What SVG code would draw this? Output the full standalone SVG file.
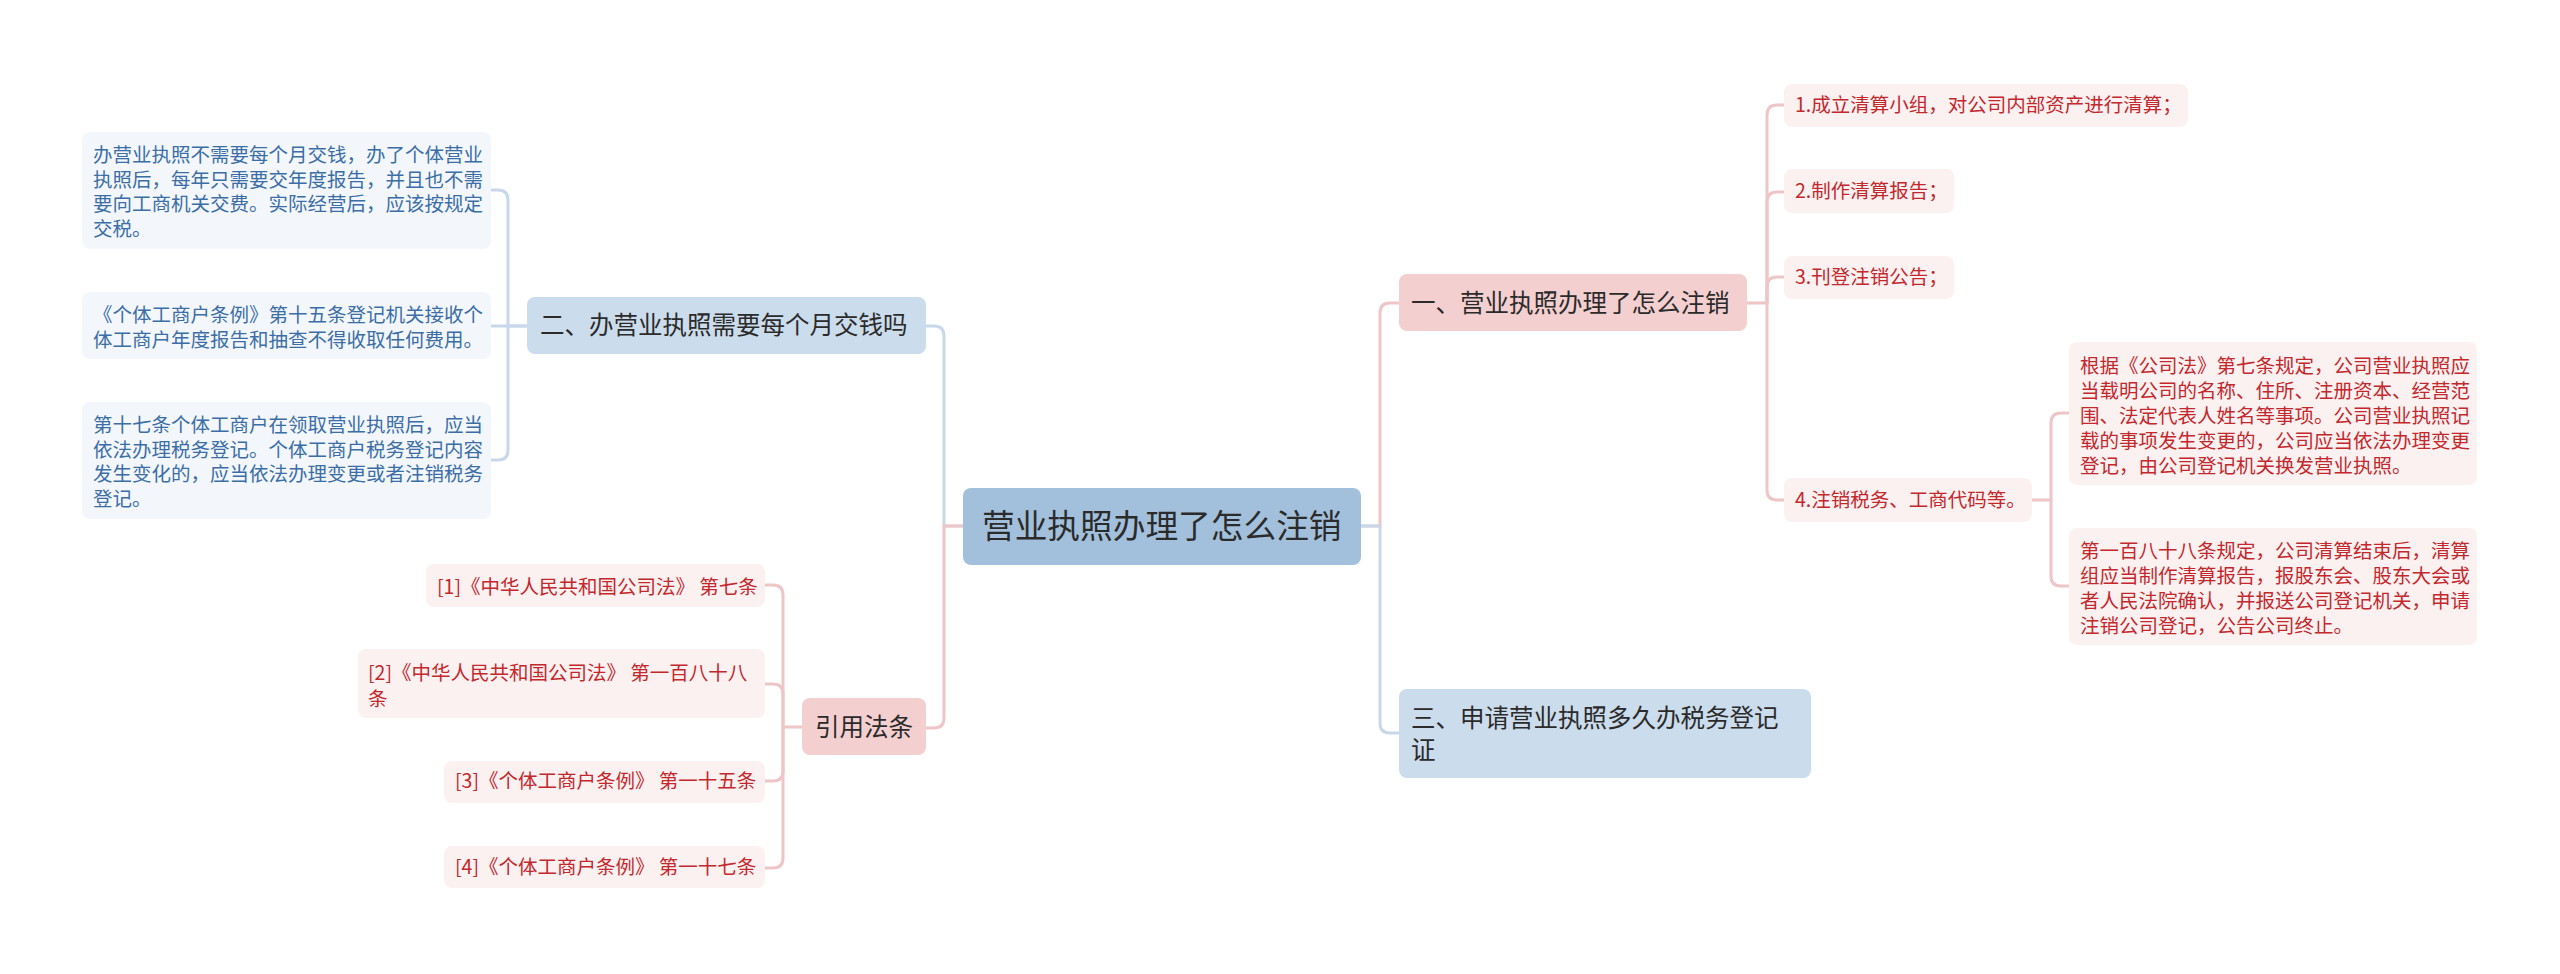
<svg xmlns="http://www.w3.org/2000/svg" width="2560" height="974" viewBox="0 0 2560 974">
<style>
text{font-family:"Noto Sans CJK SC","Liberation Sans",sans-serif;}
.root rect{fill:#a2c0dc;}
.root text{font-size:32.7px;fill:#2b2b2b;}
.bb rect{fill:#cbdcec;}
.pb rect{fill:#f4cfd0;}
.bb text,.pb text{font-size:24.5px;fill:#2b2b2b;}
.bl rect{fill:#f3f7fc;}
.bl text{font-size:19.5px;fill:#3b6ea6;}
.pl rect{fill:#fcf1f1;}
.pl text{font-size:19.5px;fill:#c3282d;}
.cb{fill:none;stroke:#c8d8ea;stroke-width:3;}
.cp{fill:none;stroke:#efc6c8;stroke-width:3;}
</style>
<rect width="2560" height="974" fill="#ffffff"/>
<g id="connectors">
<path class="cb" d="M926,326 H934 Q944,326 944,336 V526 H963"/>
<path class="cp" d="M926,728 H934 Q944,728 944,718 V526 H963"/>
<path class="cb" d="M491,190 H498 Q508,190 508,200 V326 H527"/>
<path class="cb" d="M491,326 H527"/>
<path class="cb" d="M491,460 H498 Q508,460 508,450 V326"/>
<path class="cp" d="M765,585 H773 Q783,585 783,595 V727 H802"/>
<path class="cp" d="M765,684 H773 Q783,684 783,694 V727"/>
<path class="cp" d="M765,781 H773 Q783,781 783,771 V727"/>
<path class="cp" d="M765,868 H773 Q783,868 783,858 V727"/>
<path class="cp" d="M1361,526 H1380 V313 Q1380,303 1390,303 H1399"/>
<path class="cb" d="M1361,526 H1380 V723 Q1380,733 1390,733 H1399"/>
<path class="cp" d="M1747,303 H1767 V115 Q1767,105 1777,105 H1784"/>
<path class="cp" d="M1767,303 V202 Q1767,192 1777,192 H1784"/>
<path class="cp" d="M1767,303 V287 Q1767,277 1777,277 H1784"/>
<path class="cp" d="M1767,303 V490 Q1767,500 1777,500 H1784"/>
<path class="cp" d="M2032,500 H2051 V423 Q2051,413 2061,413 H2069"/>
<path class="cp" d="M2051,500 V576 Q2051,586 2061,586 H2069"/>
</g>
<g id="root" class="root">
<rect x="963" y="488" width="398" height="77" rx="8"/>
<text x="982" y="538">营业执照办理了怎么注销</text>
</g>
<g id="b2" class="bb">
<rect x="527" y="297" width="399" height="57" rx="8"/>
<text x="540" y="334">二、办营业执照需要每个月交钱吗</text>
</g>
<g id="b2l1" class="bl">
<rect x="82" y="132" width="409" height="117" rx="8"/>
<text x="93" y="162">办营业执照不需要每个月交钱，办了个体营业</text>
<text x="93" y="186.5">执照后，每年只需要交年度报告，并且也不需</text>
<text x="93" y="211">要向工商机关交费。实际经营后，应该按规定</text>
<text x="93" y="235.5">交税。</text>
</g>
<g id="b2l2" class="bl">
<rect x="82" y="292" width="409" height="67" rx="8"/>
<text x="93" y="322">《个体工商户条例》第十五条登记机关接收个</text>
<text x="93" y="346.5">体工商户年度报告和抽查不得收取任何费用。</text>
</g>
<g id="b2l3" class="bl">
<rect x="82" y="402" width="409" height="117" rx="8"/>
<text x="93" y="432">第十七条个体工商户在领取营业执照后，应当</text>
<text x="93" y="456.5">依法办理税务登记。个体工商户税务登记内容</text>
<text x="93" y="481">发生变化的，应当依法办理变更或者注销税务</text>
<text x="93" y="505.5">登记。</text>
</g>
<g id="law" class="pb">
<rect x="802" y="698" width="124" height="57" rx="8"/>
<text x="815" y="736">引用法条</text>
</g>
<g id="law1" class="pl">
<rect x="426" y="564" width="339" height="43" rx="8"/>
<text x="437" y="594">[1]《中华人民共和国公司法》 第七条</text>
</g>
<g id="law2" class="pl">
<rect x="358" y="649" width="407" height="69" rx="8"/>
<text x="368" y="680">[2]《中华人民共和国公司法》 第一百八十八</text>
<text x="368" y="705.5">条</text>
</g>
<g id="law3" class="pl">
<rect x="444" y="761" width="321" height="42" rx="8"/>
<text x="455" y="788">[3]《个体工商户条例》 第一十五条</text>
</g>
<g id="law4" class="pl">
<rect x="444" y="846" width="321" height="42" rx="8"/>
<text x="455" y="874">[4]《个体工商户条例》 第一十七条</text>
</g>
<g id="b1" class="pb">
<rect x="1399" y="274" width="348" height="57" rx="8"/>
<text x="1411" y="312">一、营业执照办理了怎么注销</text>
</g>
<g id="b1l1" class="pl">
<rect x="1784" y="84" width="404" height="43" rx="8"/>
<text x="1795" y="112">1.成立清算小组，对公司内部资产进行清算；</text>
</g>
<g id="b1l2" class="pl">
<rect x="1784" y="169" width="170" height="44" rx="8"/>
<text x="1795" y="198">2.制作清算报告；</text>
</g>
<g id="b1l3" class="pl">
<rect x="1784" y="256" width="170" height="43" rx="8"/>
<text x="1795" y="284">3.刊登注销公告；</text>
</g>
<g id="b1l4" class="pl">
<rect x="1784" y="478" width="248" height="44" rx="8"/>
<text x="1795" y="507">4.注销税务、工商代码等。</text>
</g>
<g id="b1l4a" class="pl">
<rect x="2069" y="342" width="408" height="143" rx="8"/>
<text x="2080" y="372.5">根据《公司法》第七条规定，公司营业执照应</text>
<text x="2080" y="397.5">当载明公司的名称、住所、注册资本、经营范</text>
<text x="2080" y="422.5">围、法定代表人姓名等事项。公司营业执照记</text>
<text x="2080" y="447.5">载的事项发生变更的，公司应当依法办理变更</text>
<text x="2080" y="472.5">登记，由公司登记机关换发营业执照。</text>
</g>
<g id="b1l4b" class="pl">
<rect x="2069" y="528" width="408" height="117" rx="8"/>
<text x="2080" y="557.5">第一百八十八条规定，公司清算结束后，清算</text>
<text x="2080" y="582.5">组应当制作清算报告，报股东会、股东大会或</text>
<text x="2080" y="607.5">者人民法院确认，并报送公司登记机关，申请</text>
<text x="2080" y="632.5">注销公司登记，公告公司终止。</text>
</g>
<g id="b3" class="bb">
<rect x="1399" y="689" width="412" height="89" rx="8"/>
<text x="1411" y="727">三、申请营业执照多久办税务登记</text>
<text x="1411" y="759">证</text>
</g>
</svg>
